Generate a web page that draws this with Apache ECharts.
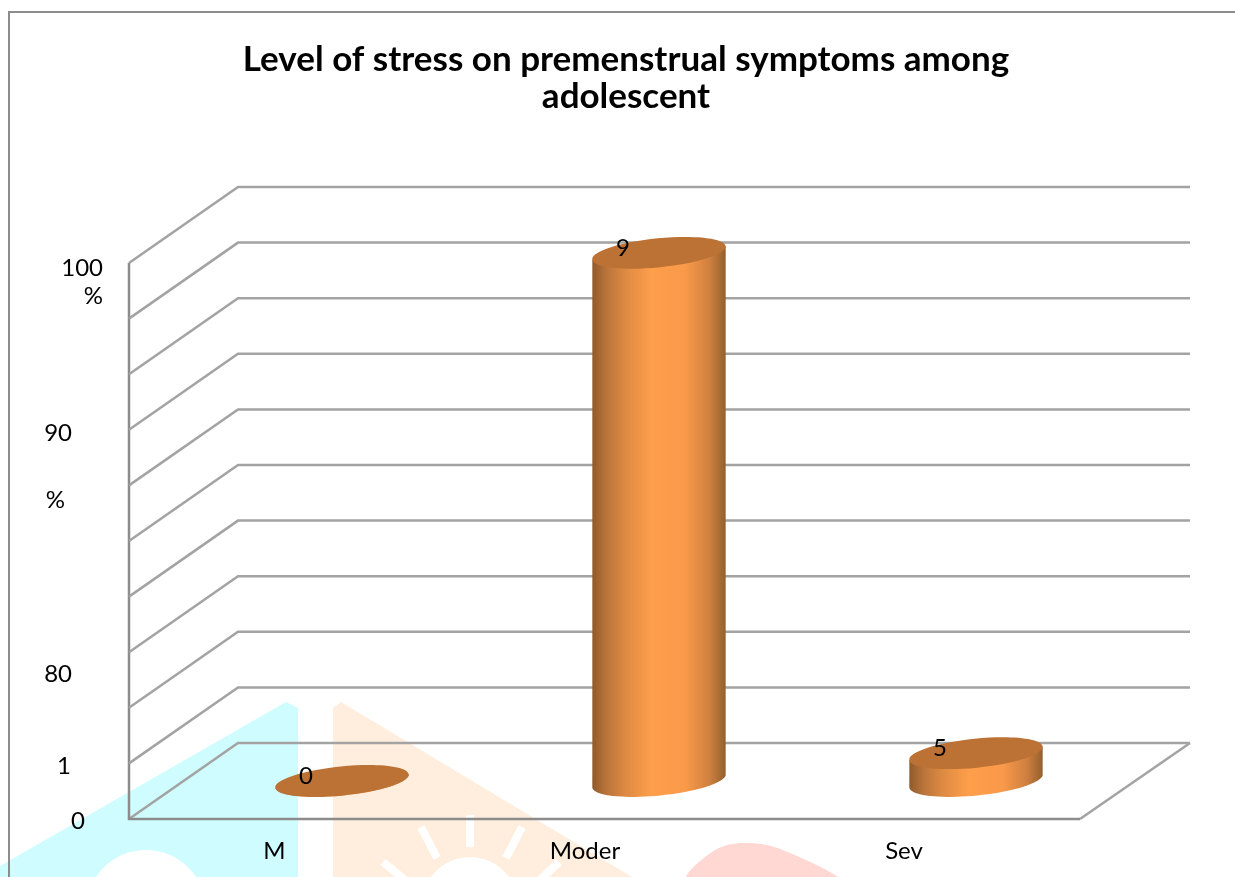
<!DOCTYPE html>
<html>
<head>
<meta charset="utf-8">
<style>
    html, body { margin: 0; padding: 0; background: #fff; }
    #main { width: 1235px; height: 877px; }
</style>
</head>
<body>
<div id="main"></div>
<script src="https://cdn.jsdelivr.net/npm/echarts@6/dist/echarts.min.js"></script>
<script>
const titleText = 'Level of stress on premenstrual symptoms among\nadolescent'
const categories = ['M', 'Moder', 'Sev']
const values = [0, 95, 5]
const dataLabels = ['0', '9', '5']
const wallTicks = [0, 10, 20, 30, 40, 50, 60, 70, 80, 90, 100]
// broken tick text of the source, with the height it sits at on the value scale
const tickLabels = ['100', '%', '90', '%', '80', '1', '0']
const tickLabelValues = [99.1, 94, 69.4, 57.3, 26.1, 9.5, -0.4]

const fontFamily = 'Lato, "Noto Sans", sans-serif'
const labelFont = '24px ' + fontFamily
const wallColor = '#a3a3a3'
const floorColor = '#8c8c8c'
const depthX = 109
const depthY = -76
const radiusX = 67
const radiusY = 14.5
const tilt = 0.1
const tickLabelRight = [103, 103, 72, 65, 72, 71, 85]

// watermark behind the chart, part of the scanned page
const watermark = [
    { type: 'polygon', shape: { points: [[0, 866], [286, 702], [298, 708], [298, 877], [0, 877]] }, style: { fill: '#cffcff' } },
    { type: 'circle', shape: { cx: 146, cy: 910, r: 60 }, style: { fill: '#fff' } },
    { type: 'circle', shape: { cx: 140, cy: 896, r: 19 }, style: { fill: '#cffcff' } },
    { type: 'polygon', shape: { points: [[333, 708], [341, 702], [632, 877], [333, 877]] }, style: { fill: '#ffeedd' } },
    { type: 'circle', shape: { cx: 470, cy: 905, r: 48 }, style: { fill: '#fff' } },
    { type: 'line', shape: { x1: 470, y1: 815, x2: 470, y2: 847 }, style: { stroke: '#fff', lineWidth: 8 } },
    { type: 'line', shape: { x1: 522, y1: 827, x2: 506, y2: 858 }, style: { stroke: '#fff', lineWidth: 8 } },
    { type: 'line', shape: { x1: 421, y1: 827, x2: 437, y2: 858 }, style: { stroke: '#fff', lineWidth: 8 } },
    { type: 'line', shape: { x1: 383, y1: 862, x2: 405, y2: 880 }, style: { stroke: '#fff', lineWidth: 8 } },
    { type: 'line', shape: { x1: 559, y1: 862, x2: 540, y2: 880 }, style: { stroke: '#fff', lineWidth: 8 } },
    { type: 'polygon', shape: { points: [[688, 882], [712, 852], [748, 843], [790, 853], [838, 882]], smooth: 0.4 }, style: { fill: '#ffd8d3' } },
    { type: 'polyline', shape: { points: [[9, 877], [9, 12], [1235, 12]] }, style: { stroke: '#8c8c8c', lineWidth: 2, fill: 'none' } }
]

function ellipsePoint (cx, cy, t) {
    return [
        cx + radiusX * Math.cos(t) * Math.cos(tilt) + radiusY * Math.sin(t) * Math.sin(tilt),
        cy - radiusX * Math.cos(t) * Math.sin(tilt) + radiusY * Math.sin(t) * Math.cos(tilt)
    ]
}

function renderWall (params, api) {
    const sys = params.coordSys
    const y = api.coord([0, api.value(0)])[1]
    const isFloor = api.value(0) === 0
    const children = [{
        type: 'polyline',
        shape: { points: [[sys.x, y], [sys.x + depthX, y + depthY], [sys.x + sys.width + depthX + 1, y + depthY]] },
        style: { stroke: wallColor, lineWidth: 2.5, fill: 'none' }
    }]
    if (isFloor) {
        children.push({
            type: 'polyline',
            shape: { points: [[sys.x + sys.width, y], [sys.x + sys.width + depthX + 1, y + depthY]] },
            style: { stroke: wallColor, lineWidth: 2.5, fill: 'none' }
        })
        children.push({
            type: 'polyline',
            shape: { points: [[sys.x, sys.y], [sys.x, y], [sys.x + sys.width, y]] },
            style: { stroke: floorColor, lineWidth: 2.5, fill: 'none' }
        })
    }
    return { type: 'group', children: children }
}

function renderCylinder (params, api) {
    const base = api.coord([api.value(0), 0])
    const top = api.coord([api.value(0), api.value(1)])
    const cx = base[0] + depthX / 2
    const baseY = base[1] + depthY / 2
    const topY = top[1] + depthY / 2
    const body = [ellipsePoint(cx, topY, Math.PI), ellipsePoint(cx, topY, 0)]
    for (let i = 0; i <= 40; i++) {
        body.push(ellipsePoint(cx, baseY, Math.PI * i / 40))
    }
    return {
        type: 'group',
        children: [{
            type: 'polygon',
            shape: { points: body },
            style: {
                fill: new echarts.graphic.LinearGradient(0, 0, 1, 0, [
                    { offset: 0, color: '#8f5a2a' },
                    { offset: 0.1, color: '#b8733a' },
                    { offset: 0.25, color: '#de8a43' },
                    { offset: 0.45, color: '#ff9f4b' },
                    { offset: 0.7, color: '#f9994a' },
                    { offset: 0.88, color: '#cf8040' },
                    { offset: 1, color: '#94602b' }
                ])
            }
        }, {
            type: 'ellipse',
            x: cx,
            y: topY,
            rotation: tilt,
            shape: { cx: 0, cy: 0, rx: radiusX, ry: radiusY },
            style: { fill: '#bc7235' }
        }, {
            type: 'text',
            x: cx - 36,
            y: topY - 5,
            style: {
                text: dataLabels[params.dataIndex],
                fill: '#000',
                font: labelFont,
                align: 'center',
                verticalAlign: 'middle'
            }
        }]
    }
}

function renderTickLabel (params, api) {
    return {
        type: 'text',
        x: tickLabelRight[params.dataIndex],
        y: api.coord([0, api.value(0)])[1],
        style: {
            text: tickLabels[params.dataIndex],
            fill: '#000',
            font: labelFont,
            align: 'right',
            verticalAlign: 'middle'
        }
    }
}

const myChart = echarts.init(document.getElementById('main'))
myChart.setOption({
    animation: false,
    backgroundColor: '#fff',
    title: {
        text: titleText,
        left: 621,
        top: 36,
        textAlign: 'center',
        textStyle: { color: '#000', fontFamily: fontFamily, fontWeight: 'bold', fontSize: 35, lineHeight: 37 }
    },
    grid: { left: 129, right: 155, top: 263, bottom: 58 },
    graphic: watermark,
    xAxis: {
        type: 'category',
        data: categories,
        axisLine: { show: false },
        axisTick: { show: false },
        axisLabel: {
            margin: 20,
            formatter: function (value, index) {
                return '{c' + index + '|' + value + '}'
            },
            rich: {
                c0: { color: '#000', fontFamily: fontFamily, fontSize: 24, padding: [0, 26, 0, 0] },
                c1: { color: '#000', fontFamily: fontFamily, fontSize: 24, padding: [0, 39, 0, 0] },
                c2: { color: '#000', fontFamily: fontFamily, fontSize: 24, padding: [0, 35, 0, 0] }
            }
        }
    },
    yAxis: {
        type: 'value',
        min: 0,
        max: 100,
        interval: 10,
        axisLine: { show: false },
        axisTick: { show: false },
        axisLabel: { show: false },
        splitLine: { show: false }
    },
    series: [{
        type: 'custom',
        name: 'walls',
        silent: true,
        clip: false,
        encode: { y: 0 },
        data: wallTicks.map(function (v) { return [v] }),
        renderItem: renderWall
    }, {
        type: 'custom',
        name: 'tick labels',
        silent: true,
        clip: false,
        encode: { y: 0 },
        data: tickLabelValues.map(function (v) { return [v] }),
        renderItem: renderTickLabel
    }, {
        type: 'custom',
        name: 'Level of stress',
        clip: false,
        encode: { x: 0, y: 1 },
        data: values.map(function (v, i) { return [i, v] }),
        renderItem: renderCylinder
    }]
})
</script>
</body>
</html>
